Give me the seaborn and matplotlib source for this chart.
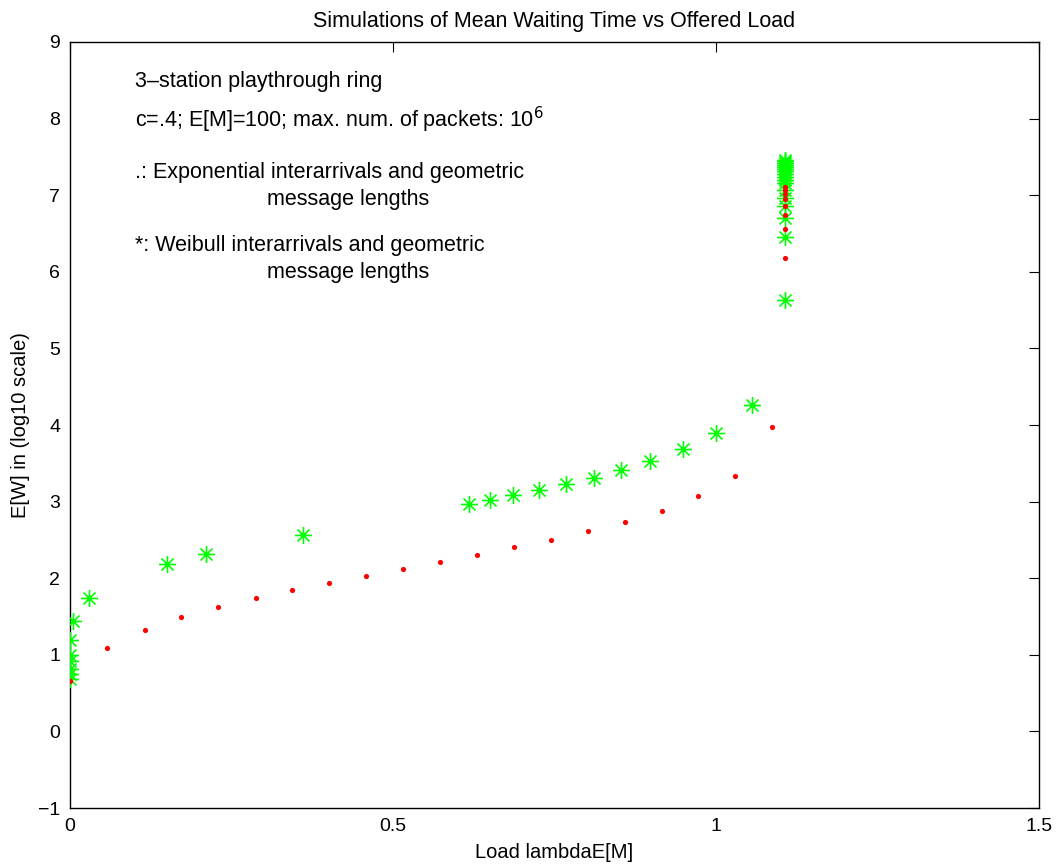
import matplotlib
matplotlib.use("Agg")
import matplotlib.pyplot as plt
import seaborn as sns
import pandas as pd
import numpy as np
from matplotlib.path import Path

# Exponential interarrivals (red dots)
exp_load = [0.0, 0.057, 0.116, 0.172, 0.229, 0.288, 0.344, 0.401, 0.458, 0.515,
            0.573, 0.630, 0.687, 0.745, 0.802, 0.859, 0.916, 0.972, 1.029, 1.087,
            1.107, 1.107, 1.107, 1.107, 1.107, 1.107, 1.107, 1.107]
exp_wait = [0.66, 1.09, 1.32, 1.49, 1.62, 1.74, 1.85, 1.94, 2.03, 2.12,
            2.21, 2.30, 2.41, 2.50, 2.61, 2.74, 2.88, 3.07, 3.33, 3.98,
            6.18, 6.56, 6.74, 6.86, 6.95, 7.02, 7.07, 7.11]

# Weibull interarrivals (green stars)
wei_load = [0.0, 0.0, 0.0, 0.0, 0.0, 0.0, 0.005, 0.03, 0.15, 0.21, 0.36,
            0.618, 0.650, 0.686, 0.726, 0.768, 0.811, 0.853, 0.898, 0.949, 1.0, 1.056,
            1.107, 1.107, 1.107, 1.107, 1.107, 1.107, 1.107, 1.107, 1.107, 1.107,
            1.107, 1.107, 1.107, 1.107, 1.107, 1.107, 1.107]
wei_wait = [0.68, 0.75, 0.82, 0.92, 1.0, 1.19, 1.44, 1.74, 2.19, 2.32, 2.56,
            2.97, 3.02, 3.09, 3.15, 3.23, 3.31, 3.41, 3.53, 3.69, 3.90, 4.26,
            5.63, 6.45, 6.70, 6.86, 6.96, 7.07, 7.16, 7.20, 7.24, 7.28, 7.31,
            7.34, 7.37, 7.40, 7.42, 7.44, 7.46]

df_exp = pd.DataFrame({"load": exp_load, "wait": exp_wait})
df_wei = pd.DataFrame({"load": wei_load, "wait": wei_wait})

sns.set_style("white")
plt.rcParams["font.family"] = ["Liberation Sans", "DejaVu Sans"]
plt.rcParams["text.color"] = "black"
plt.rcParams["axes.labelcolor"] = "black"

# matlab style 8-arm asterisk
s = np.sqrt(0.5)
star = Path([(-1, 0), (1, 0), (0, -1), (0, 1), (-s, -s), (s, s), (-s, s), (s, -s)],
            [Path.MOVETO, Path.LINETO] * 4)

fig = plt.figure(figsize=(10.63, 8.67), dpi=100)
ax = fig.add_axes([0.0659, 0.068, 0.9115, 0.8836])

sns.scatterplot(data=df_wei, x="load", y="wait", marker=star, s=150, color="#00ff00",
                edgecolor="#00ff00", linewidth=1.2, ax=ax, zorder=3)
sns.scatterplot(data=df_exp, x="load", y="wait", marker="o", s=14, color="red",
                edgecolor="red", linewidth=0, ax=ax, zorder=4)

ax.set_xlim(0, 1.5)
ax.set_ylim(-1, 9)
ax.set_xticks([0, 0.5, 1, 1.5])
ax.set_xticklabels(["0", "0.5", "1", "1.5"])
ax.set_yticks(range(-1, 10))
ax.set_yticklabels(["\u22121"] + [str(i) for i in range(0, 10)])
ax.tick_params(direction="in", length=7, width=0.8, top=True, right=True,
               labelsize=14, colors="black", pad=7)
for sp in ax.spines.values():
    sp.set_visible(True)
    sp.set_color("black")
    sp.set_linewidth(1.0)

ax.set_title("Simulations of Mean Waiting Time vs Offered Load", fontsize=15.5, pad=11)
ax.set_xlabel("Load lambdaE[M]", fontsize=14.5, labelpad=6)
ax.set_ylabel("E[W] in (log10 scale)", fontsize=14.5, labelpad=6)

fs = 15.5
ax.text(0.1, 8.48, "3\u2013station playthrough ring", fontsize=fs, va="center")
ax.text(0.1, 7.98, "c=.4; E[M]=100; max. num. of packets: 10$^6$", fontsize=fs, va="center")
ax.text(0.1, 7.30, ".: Exponential interarrivals and geometric", fontsize=fs, va="center")
ax.text(0.43, 6.95, "message lengths", fontsize=fs, va="center", ha="center")
ax.text(0.1, 6.34, "*: Weibull interarrivals and geometric", fontsize=fs, va="center")
ax.text(0.43, 5.99, "message lengths", fontsize=fs, va="center", ha="center")

fig.savefig("out.png", dpi=100)
